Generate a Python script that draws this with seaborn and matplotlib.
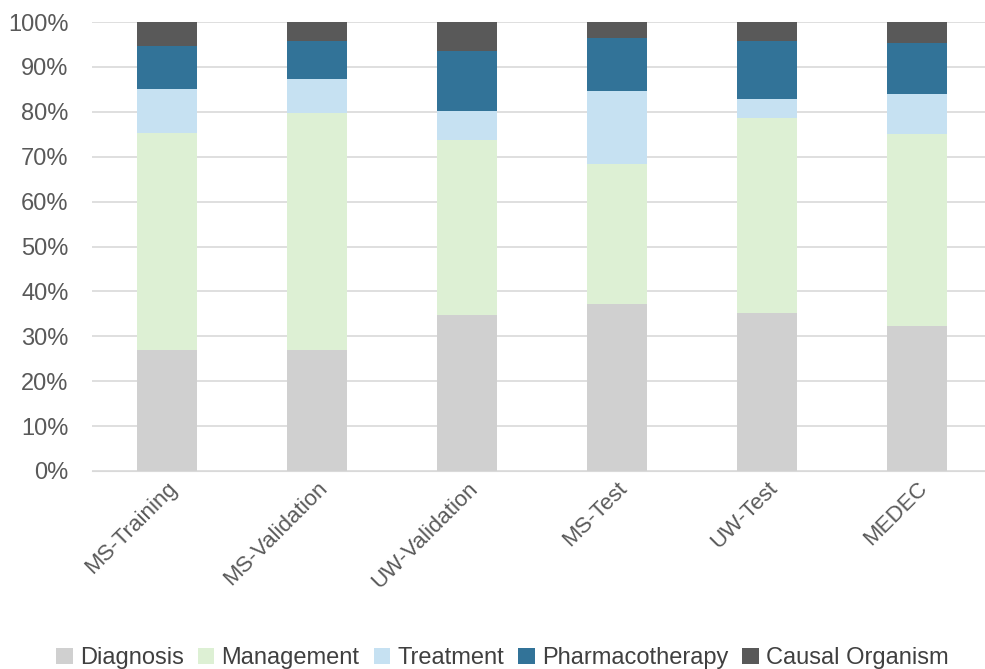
import pandas as pd
import numpy as np
import matplotlib.pyplot as plt
import seaborn as sns
from matplotlib.patches import Patch

datasets = ["MS-Training", "MS-Validation", "UW-Validation", "MS-Test", "UW-Test", "MEDEC"]
categories = ["Diagnosis", "Management", "Treatment", "Pharmacotherapy", "Causal Organism"]
colors = ["#d0d0d0", "#ddf0d4", "#c6e1f2", "#327398", "#595959"]

# share (%) of each error type per dataset
diagnosis = [27.0, 27.0, 34.8, 37.3, 35.1, 32.2]
management = [48.4, 52.7, 38.9, 31.1, 43.6, 42.9]
treatment = [9.6, 7.7, 6.4, 16.3, 4.2, 8.9]
pharmacotherapy = [9.7, 8.3, 13.4, 11.7, 12.8, 11.3]
causal_organism = [5.3, 4.3, 6.5, 3.6, 4.3, 4.7]

df = pd.DataFrame({
    "dataset": datasets,
    "Diagnosis": diagnosis,
    "Management": management,
    "Treatment": treatment,
    "Pharmacotherapy": pharmacotherapy,
    "Causal Organism": causal_organism,
})
# normalise so each bar reaches 100%
df[categories] = df[categories].div(df[categories].sum(axis=1), axis=0) * 100
cum = df[categories].cumsum(axis=1)

sns.set_style("white")
plt.rcParams['font.family'] = ['Liberation Sans', 'DejaVu Sans']

fig = plt.figure(figsize=(9.85, 6.69), dpi=100)
ax = fig.add_axes([0.0934, 0.296, 0.9137, 0.671])

# draw cumulative totals from the top layer down so they stack
for i in range(len(categories) - 1, -1, -1):
    sns.barplot(x=df["dataset"], y=cum[categories[i]], color=colors[i], width=0.4,
                saturation=1, ax=ax, zorder=2, linewidth=0, edgecolor="none")

ax.set_ylim(0, 100)
ax.set_yticks(np.arange(0, 101, 10))
ax.set_yticklabels([f"{v}%" for v in range(0, 101, 10)])
ax.yaxis.grid(True, color="#d9d9d9", linewidth=1.2, zorder=0)
ax.set_axisbelow(True)
for s in ax.spines.values():
    s.set_visible(False)
ax.spines["bottom"].set_visible(True)
ax.spines["bottom"].set_color("#d9d9d9")
ax.set_xlabel("")
ax.set_ylabel("")
ax.tick_params(axis="y", length=0, labelsize=17, labelcolor="#595959", pad=17)
ax.tick_params(axis="x", length=0, labelsize=16, labelcolor="#595959", pad=5)
plt.setp(ax.get_xticklabels(), rotation=45, ha="right", rotation_mode="anchor")

handles = [Patch(facecolor=c, edgecolor="none") for c in colors]
fig.legend(handles, categories, loc="lower center", bbox_to_anchor=(0.51, -0.032), ncol=5,
           frameon=False, fontsize=17, labelcolor="#404040", handlelength=0.7,
           handleheight=0.7, handletextpad=0.3, columnspacing=0.6)

fig.savefig("out.png", dpi=100)
